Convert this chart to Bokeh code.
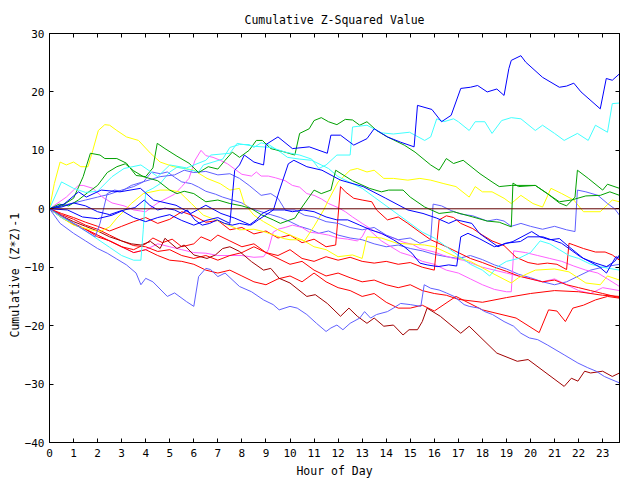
from bokeh.plotting import figure
from bokeh.models import Range1d, LinearAxis, FixedTicker, Span, Title
from bokeh.embed import file_html
from bokeh.resources import INLINE

FONT = "DejaVu Sans Mono"

x_ticks = list(range(0, 24))
y_ticks = list(range(-40, 31, 10))

# ---- series (hour of day, cumulative value) ----
b1_h = [0, 0.5, 1, 1.5, 2, 2.5, 3, 3.5, 4, 4.5, 5, 5.5, 6, 6.5, 7, 7.5, 7.6, 7.7, 7.9, 8.1, 8.5, 8.9, 9.0, 9.5, 10.1, 10.8, 11.55, 11.7, 12.1, 12.65, 13.2, 13.5, 14.05, 14.6, 15.16, 15.3, 15.9, 16.3, 16.7, 17.1, 17.5, 17.8, 18.2, 18.6, 18.9, 19.1, 19.2, 19.6, 19.8, 20.5, 21.2, 21.5, 21.8, 22.1, 22.9, 23.15, 23.4, 23.7]
b1_v = [0, 0.3, 1.0, 0.5, -0.5, -1.0, -0.3, -1.5, -2.2, -1.5, -1.0, -2.0, -2.8, -2.0, -1.5, -2.5, 2.0, 6.6, 7.5, 9.2, 8.0, 7.5, 11.0, 12.3, 10.3, 10.6, 9.5, 12.6, 12.6, 10.9, 12.0, 13.7, 12.3, 11.4, 10.6, 17.7, 17.0, 14.9, 16.0, 20.6, 20.8, 21.1, 20.0, 20.5, 19.4, 24.0, 25.4, 26.2, 25.1, 22.5, 20.8, 21.0, 21.5, 20.0, 17.1, 22.3, 22.0, 23.1]

b2_h = [0, 0.6, 1.21, 1.53, 2.15, 2.93, 3.78, 4.33, 5.26, 5.88, 6.5, 7.13, 7.7, 8.37, 8.68, 9.31, 9.54, 9.93, 10.16, 10.7, 11.33, 12.1, 13.04, 13.98, 14.9, 15.53, 16.1, 16.6, 16.93, 17.56, 17.87, 18.65, 18.96, 19.58, 19.89, 20.51, 21.29, 22.07, 22.85, 23.16, 23.55, 23.7]
b2_v = [0, 0.8, 2.9, 2.0, 3.2, 2.9, 3.5, 1.5, 0.6, -0.8, 0.6, -0.8, -1.6, -2.8, -1.9, -0.2, 2.9, 7.7, 8.3, 7.2, 6.6, 4.9, 3.8, 1.8, -0.2, -0.8, -1.6, -2.5, -1.9, -2.5, -4.2, -6.5, -5.9, -5.6, -4.8, -4.8, -5.9, -8.2, -9.9, -11.0, -8.2, -8.5]

b3_h = [0, 0.75, 1.37, 2.0, 2.6, 3.1, 3.55, 3.94, 4.17, 4.5, 4.8, 5.2, 5.5, 5.73, 6.04, 6.35, 6.66, 6.97, 7.28, 7.6, 7.9, 8.3, 8.6, 8.84, 9.15, 9.77, 10.1, 10.55, 11.0, 11.5, 11.95, 12.4, 12.9, 13.35, 13.8, 14.3, 14.75, 15.07, 15.4, 15.7, 16.15, 16.6, 16.93, 17.1, 17.4, 17.87, 18.5, 19.27, 20.05, 20.4, 20.8, 21.2, 21.6, 22.2, 22.7, 23.16, 23.5, 23.7]
b3_v = [0, -0.2, -1.4, -1.7, -1.1, -0.2, 0.2, 1.5, 0.6, -0.2, 0.1, -0.2, -0.8, -0.2, -1.9, -2.8, -2.5, -1.9, -2.5, -2.8, -2.5, -2.8, -1.9, -0.8, -0.2, -0.2, -0.5, -0.2, -0.5, -1.4, -1.9, -1.9, -2.8, -3.6, -4.2, -5.3, -6.5, -7.6, -9.3, -9.6, -9.9, -9.6, -9.8, -4.8, -4.2, -5.1, -6.5, -5.6, -3.9, -4.8, -5.3, -5.1, -6.5, -8.5, -9.3, -9.9, -9.0, -7.9]

c1_h = [0, 0.5, 1.0, 1.5, 2.0, 2.6, 3.1, 3.8, 4.5, 5.0, 5.7, 6.5, 6.7, 7.5, 7.8, 8.5, 9.2, 9.8, 10.4, 10.9, 11.2, 11.5, 11.95, 12.5, 12.6, 13.2, 13.8, 14.3, 14.97, 15.6, 15.85, 16.1, 16.4, 16.8, 17.0, 17.45, 17.7, 18.1, 18.4, 18.8, 19.2, 19.6, 20.2, 20.5, 21.0, 21.4, 21.95, 22.4, 22.7, 23.2, 23.4, 23.7]
c1_v = [0, 4.6, 3.5, 2.8, 3.0, 5.5, 6.9, 7.5, 5.5, 7.5, 7.0, 8.3, 9.2, 9.5, 11.2, 10.7, 10.5, 9.7, 9.2, 8.5, 6.9, 7.5, 9.2, 9.2, 14.0, 14.3, 13.0, 12.8, 13.1, 11.7, 12.3, 15.4, 14.9, 15.4, 14.9, 13.4, 14.9, 14.9, 12.9, 15.1, 15.6, 15.4, 13.4, 14.3, 12.9, 11.7, 12.9, 11.7, 14.3, 13.1, 18.0, 18.1]

c2_h = [0, 0.5, 1.0, 1.5, 2.0, 2.5, 3.0, 3.5, 3.8, 3.9, 4.0, 4.3, 4.6, 5.0, 5.3, 5.7, 6.2, 6.4, 6.8, 7.2, 7.5, 7.9, 8.3, 8.5, 8.8, 9.15, 9.6, 9.9, 10.4, 10.9, 11.3, 11.6, 12.0, 12.5, 13.0, 13.5, 14.0, 14.5, 15.0, 15.5, 16.0, 16.5, 17.0, 17.5, 18.0, 18.3, 18.6, 19.0, 19.5, 20.0, 20.4, 20.8, 21.2, 21.6, 22.0, 22.5, 23.0, 23.7]
c2_v = [0, -1.5, -2.5, -3.8, -5.2, -6.6, -8.0, -8.8, -8.8, -3.5, 2.9, 3.5, 4.3, 6.3, 7.1, 6.8, 6.3, 7.5, 8.0, 8.5, 10.5, 11.0, 11.0, 10.5, 11.3, 10.9, 9.7, 8.8, 8.5, 8.3, 7.5, 6.9, 5.5, 4.5, 3.5, 2.0, 0.5, -1.0, -2.5, -4.0, -5.0, -6.5, -8.0, -9.5, -10.5, -11.5, -10.0, -9.0, -8.5, -7.5, -5.5, -6.0, -7.0, -8.0, -8.5, -9.5, -10.0, -10.5]

g1_h = [0, 0.5, 1.0, 1.4, 1.7, 2.1, 2.3, 2.8, 3.2, 3.6, 4.0, 4.3, 4.48, 4.8, 5.3, 5.8, 6.2, 6.6, 7.0, 7.3, 7.6, 7.9, 8.3, 8.6, 8.85, 9.2, 9.7, 10.2, 10.4, 10.8, 11.0, 11.3, 11.6, 11.95, 12.3, 12.6, 12.9, 13.2, 13.6, 14.05, 14.3, 14.75, 15.2, 15.85, 16.2, 16.5, 16.8, 17.2, 17.9, 18.4, 18.7, 19.2, 20.2, 20.7, 21.2, 21.5, 21.85, 21.95, 22.4, 23.0, 23.2, 23.7]
g1_v = [0, 0.5, 1.8, 5.5, 9.5, 9.2, 8.6, 8.6, 7.8, 5.7, 5.5, 7.0, 11.2, 10.3, 9.0, 7.8, 6.2, 7.2, 6.8, 8.3, 9.7, 8.8, 10.0, 11.7, 11.7, 10.3, 9.8, 9.2, 12.9, 13.7, 15.1, 15.6, 14.9, 14.4, 15.3, 15.2, 14.3, 14.9, 13.4, 12.3, 11.8, 10.9, 9.7, 7.5, 6.6, 8.6, 7.75, 8.3, 6.0, 4.6, 3.8, 4.0, 4.0, 2.6, 1.0, 0.5, 2.0, 6.6, 5.2, 3.2, 4.2, 3.5]

g2_h = [0, 0.4, 0.8, 1.2, 1.6, 2.0, 2.4, 2.8, 3.15, 3.5, 3.9, 4.5, 5.0, 5.3, 5.6, 6.0, 6.5, 7.0, 7.5, 8.0, 8.4, 8.8, 9.3, 9.6, 10.2, 10.5, 11.0, 11.3, 11.7, 11.9, 12.6, 13.3, 13.8, 14.1, 14.7, 15.0, 15.6, 16.2, 16.8, 17.6, 18.2, 18.7, 19.2, 19.27, 19.5, 20.2, 20.7, 21.2, 21.7, 22.3, 22.9, 23.3, 23.7]
g2_v = [0, 0.8, 0.5, 1.5, 2.8, 4.0, 6.2, 7.2, 7.7, 6.5, 5.5, 4.8, 3.2, 2.6, 3.0, 2.6, 1.2, 1.5, 0.9, 0.5, 0.0, -1.0, -1.9, -2.5, -1.6, 0.3, 3.2, 2.6, 3.2, 6.6, 4.8, 3.5, 2.9, 3.2, 3.2, 2.0, 0.3, -0.8, -0.5, -1.4, -2.1, -2.3, -3.1, 4.4, 3.8, 4.0, 2.6, 1.2, 1.5, 2.2, 2.3, 2.9, 2.3]

y1_h = [0, 0.2, 0.44, 0.7, 1.0, 1.3, 1.6, 1.8, 2.03, 2.3, 2.5, 2.8, 3.2, 3.7, 4.2, 4.6, 5.16, 5.5, 6.0, 6.55, 7.1, 7.5, 7.9, 8.1, 8.5, 8.9, 9.5, 10.0, 10.6, 11.0, 11.4, 11.6, 12.0, 12.5, 12.8, 13.2, 13.5, 13.9, 14.3, 14.9, 15.4, 15.85, 16.4, 16.9, 17.45, 17.7, 18.0, 18.4, 18.9, 19.2, 19.6, 20.1, 20.5, 20.85, 21.3, 21.8, 22.2, 22.9, 23.4, 23.7]
y1_v = [0, 4.3, 8.0, 7.5, 8.0, 7.2, 7.2, 10.0, 13.4, 14.4, 14.3, 13.4, 12.3, 11.7, 9.5, 8.0, 7.2, 7.0, 6.6, 5.2, 4.3, 3.2, 3.5, 0.9, -1.1, -2.2, -3.6, -4.5, -5.5, -3.0, -0.2, 1.5, 4.6, 6.6, 6.9, 6.3, 6.6, 5.2, 5.2, 4.9, 5.2, 4.9, 4.3, 3.8, 2.0, 3.8, 2.9, 2.9, 1.8, 0.9, 2.3, 0.9, 0.3, 3.5, 2.6, 1.5, -0.5, -0.5, 1.5, 1.2]

y3_h = [0, 0.5, 1.0, 1.7, 2.1, 2.5, 2.8, 3.4, 3.9, 4.6, 5.0, 5.4, 5.9, 6.4, 7.1, 7.9, 8.5, 8.9, 9.75, 10.0, 10.5, 11.0, 11.5, 12.0, 12.6, 13.0, 13.2, 13.8, 14.45, 15.6, 16.0, 17.0, 17.5, 18.4, 19.2, 19.5, 20.2, 21.0, 21.6, 22.3, 22.9, 23.2, 23.7]
y3_v = [0, -1.5, -2.8, -3.6, -3.9, -3.1, -1.6, 0.9, 2.6, 3.2, 3.2, 2.9, 0.9, -1.1, -2.2, -3.6, -3.5, -3.9, -5.1, -5.3, -5.3, -6.5, -7.0, -8.2, -7.9, -8.5, -4.8, -5.0, -5.9, -6.2, -6.5, -8.4, -9.0, -11.0, -12.7, -11.8, -10.5, -10.3, -10.8, -12.7, -13.0, -11.5, -12.2]

m1_h = [0, 0.7, 1.2, 1.4, 1.8, 2.2, 2.6, 3.1, 3.5, 4.0, 4.5, 5.2, 5.5, 5.8, 6.05, 6.3, 6.5, 6.8, 7.1, 7.4, 7.7, 8.0, 8.4, 8.6, 8.8, 9.1, 9.4, 9.8, 10.1, 10.4, 10.7, 11.0, 11.3, 11.6, 12.0, 12.3, 12.6, 13.0, 13.5, 14.0, 14.3, 14.7, 15.1, 15.4, 15.7, 16.0, 16.4, 16.8, 17.2, 17.6, 18.0, 18.5, 19.0, 19.5, 20.0, 20.5, 21.0, 21.5, 22.0, 22.5, 23.0, 23.7]
m1_v = [0, 2.0, 4.0, 4.0, 3.5, 2.0, 1.0, 0.5, -0.2, -0.5, 1.0, 2.5, 3.8, 5.2, 8.3, 10.0, 9.1, 8.8, 8.3, 7.7, 6.8, 5.9, 5.6, 6.3, 5.6, 5.6, 5.3, 4.8, 4.0, 3.7, 2.6, 2.3, 1.7, 0.9, 0.2, -0.5, -1.4, -2.5, -3.8, -4.6, -5.0, -5.7, -6.1, -6.8, -7.1, -7.4, -8.0, -8.5, -8.8, -9.4, -10.0, -10.5, -11.0, -11.5, -12.0, -12.5, -12.0, -13.0, -14.0, -14.5, -13.5, -14.0]

m2_h = [0, 0.5, 1, 1.5, 2, 2.5, 3, 3.5, 4, 4.5, 5, 5.5, 6, 6.5, 7, 7.5, 8, 8.5, 8.9, 9.1, 9.3, 9.5, 9.8, 10.1, 10.5, 10.8, 11.2, 11.6, 12.0, 12.4, 12.8, 13.0, 13.2, 13.4, 13.8, 14.2, 14.6, 15, 15.5, 16, 16.5, 17, 17.5, 18, 18.5, 19.0, 19.2, 19.3, 19.8, 20.3, 20.8, 21.3, 21.8, 22.3, 22.8, 23.2, 23.7]
m2_v = [0, -1.5, -2.5, -3.5, -4.5, -5.5, -6.5, -7.5, -7.0, -6.0, -6.5, -7.0, -7.5, -7.6, -8.0, -8.0, -8.0, -8.3, -8.2, -7.0, -4.0, -3.5, -3.2, -2.8, -3.2, -4.0, -4.2, -4.5, -5.0, -5.2, -5.5, -4.8, -3.2, -4.0, -5.5, -6.5, -7.5, -8.0, -9.0, -9.5, -10.5, -11.0, -12.0, -13.0, -13.8, -14.2, -14.2, -7.2, -7.5, -8.0, -8.5, -9.0, -9.8, -10.5, -11.0, -12.0, -13.3]

r1_h = [0, 0.5, 1, 1.5, 2, 2.5, 3, 3.5, 4, 4.5, 5, 5.5, 6, 6.5, 7, 7.5, 8, 8.5, 9, 9.5, 10, 10.5, 11, 11.5, 11.9, 12.1, 12.3, 12.65, 13.0, 13.4, 13.6, 14.05, 14.5, 14.9, 15.4, 15.85, 16.5, 17, 17.5, 18, 18.5, 19, 19.5, 20, 20.5, 21, 21.5, 22, 22.5, 23, 23.7]
r1_v = [0, -0.8, -1.5, -2.3, -3.0, -3.8, -3.0, -2.2, -1.5, -2.5, -1.8, -0.5, -1.2, -2.3, -2.0, -3.6, -3.2, -4.3, -3.8, -5.0, -4.5, -5.8, -5.2, -6.5, -6.2, 3.8, 2.9, 1.8, 1.5, 1.2, -0.2, -1.9, -1.4, -2.5, -4.0, -5.3, -6.5, -7.5, -8.5, -9.2, -10.0, -10.7, -11.5, -12.0, -12.5, -12.2, -13.0, -13.5, -14.0, -14.5, -15.2]

r2_h = [0, 0.5, 1, 1.5, 2, 2.5, 3, 3.5, 4, 4.5, 5, 5.5, 6, 6.5, 7, 7.5, 8, 8.5, 9, 9.5, 10, 10.5, 11, 11.5, 12, 12.5, 13, 13.5, 14, 14.5, 15, 15.5, 16, 16.9, 18.0, 19.4, 20.36, 20.75, 21.1, 21.45, 21.76, 22.2, 22.7, 23.2, 23.7]
r2_v = [0, -1.2, -2.5, -3.5, -4.8, -5.5, -6.5, -7.5, -7.0, -8.0, -8.8, -9.0, -9.5, -10.5, -11.0, -10.5, -11.5, -12.5, -13.0, -12.0, -11.5, -12.5, -11.0, -12.5, -13.5, -14.0, -15.0, -14.5, -16.0, -17.0, -17.0, -16.5, -17.5, -15.0, -17.3, -18.7, -21.2, -17.3, -17.5, -19.3, -17.0, -16.5, -15.6, -15.0, -15.3]

r3_h = [0, 0.5, 1, 1.5, 2, 2.5, 3, 3.5, 4, 4.3, 4.7, 5.1, 5.5, 6, 6.3, 6.7, 7, 7.5, 8, 8.5, 9, 9.5, 10, 10.5, 11, 11.5, 12, 12.5, 13, 13.5, 14, 14.5, 15, 15.5, 16, 16.5, 17, 18, 19, 20, 21, 22, 23, 23.7]
r3_v = [0, -1.5, -2.7, -3.5, -4.5, -5.5, -6.5, -7.0, -6.0, -5.0, -5.8, -5.2, -6.5, -6.0, -4.8, -5.5, -4.5, -5.5, -6.5, -6.0, -7.5, -8.5, -9.5, -9.0, -10.5, -11.5, -11.0, -11.8, -12.5, -12.2, -13.0, -13.5, -13.0, -14.0, -14.5, -14.8, -15.5, -16.0, -15.2, -14.5, -14.0, -14.2, -14.8, -15.0]

r4_h = [0, 0.5, 1, 1.5, 2, 2.5, 3, 3.5, 4, 4.5, 5, 5.5, 6, 6.5, 7, 7.5, 8, 8.5, 9, 9.5, 10, 10.5, 11, 11.5, 12, 12.5, 13, 13.5, 14, 14.5, 15, 15.5, 16.0, 16.2, 16.5, 16.8, 17.1, 17.6, 18.0, 18.4, 18.9, 19.4, 19.9, 20.3, 20.7, 21.1, 21.5, 21.6, 21.8, 22.2, 22.7, 23.1, 23.4, 23.7]
r4_v = [0, -1.0, -1.8, -2.8, -3.5, -4.5, -5.5, -6.3, -6.5, -7.3, -7.0, -8.0, -8.5, -8.0, -8.8, -8.0, -7.5, -6.5, -7.5, -8.0, -7.0, -8.5, -9.0, -8.2, -8.8, -8.3, -9.0, -9.3, -9.0, -9.5, -9.2, -10.0, -10.5, -1.9, -1.2, -1.5, -2.5, -3.4, -4.5, -5.5, -6.3, -8.3, -9.2, -9.5, -9.3, -9.5, -10.4, -5.9, -6.2, -6.8, -7.4, -7.4, -7.9, -8.8]

dr_h = [0, 0.5, 1.0, 1.5, 2.0, 2.5, 3.0, 3.4, 3.8, 4.2, 4.6, 4.8, 5.3, 5.6, 6.0, 6.55, 6.9, 7.2, 7.5, 7.9, 8.4, 8.9, 9.2, 9.55, 10.0, 10.7, 11.05, 11.55, 12.1, 12.45, 12.8, 13.2, 13.5, 13.9, 14.3, 14.7, 14.95, 15.3, 15.5, 15.7, 16.25, 17.1, 17.45, 18.6, 19.45, 19.9, 21.4, 21.7, 21.97, 22.25, 22.5, 23.0, 23.4, 23.7]
dr_v = [0, -1.2, -2.2, -3.0, -3.8, -4.8, -5.5, -6.0, -6.2, -5.6, -6.8, -5.05, -6.8, -6.2, -7.9, -8.5, -7.9, -6.8, -6.5, -7.3, -9.05, -10.5, -10.2, -11.9, -12.7, -15.0, -14.7, -16.2, -18.4, -17.0, -18.4, -19.6, -18.7, -20.1, -19.9, -21.6, -20.7, -20.7, -19.3, -17.0, -18.4, -21.3, -20.1, -24.7, -26.1, -25.8, -30.4, -29.0, -29.5, -27.8, -28.1, -27.8, -28.7, -28.1]

lb1_h = [0, 0.44, 1.0, 1.5, 2.0, 2.4, 2.8, 3.2, 3.6, 3.8, 4.0, 4.3, 4.9, 5.2, 5.7, 6.0, 6.2, 6.5, 6.7, 7.0, 7.3, 7.9, 8.4, 8.9, 9.3, 9.55, 10.0, 10.3, 10.7, 11.1, 11.5, 11.7, 11.95, 12.2, 12.5, 12.9, 13.1, 13.35, 13.6, 14.05, 14.3, 14.6, 15.0, 15.44, 15.58, 15.85, 16.2, 16.5, 16.82, 17.24, 17.45, 17.86, 18.1, 18.42, 18.9, 19.3, 19.6, 19.95, 20.3, 20.7, 21.4, 21.97, 22.38, 22.73, 23.07, 23.35, 23.7]
lb1_v = [0, -2.5, -4.2, -5.5, -6.8, -7.6, -8.6, -9.6, -11.0, -13.0, -11.9, -12.5, -15.0, -14.4, -15.9, -16.7, -11.6, -10.2, -10.4, -11.6, -11.0, -13.3, -14.2, -15.6, -16.4, -17.3, -16.7, -17.0, -18.1, -19.6, -21.0, -20.4, -19.9, -20.7, -19.6, -18.7, -17.6, -18.7, -18.1, -17.6, -17.0, -16.2, -16.4, -16.7, -13.0, -13.6, -13.9, -14.4, -15.0, -16.4, -16.7, -17.0, -17.6, -18.1, -19.3, -20.1, -21.3, -22.1, -22.4, -23.3, -25.0, -26.4, -27.2, -27.8, -28.7, -29.2, -29.8]

lb2_h = [0, 0.5, 1.0, 1.5, 1.9, 2.1, 2.4, 2.7, 3.0, 3.4, 3.8, 4.2, 4.6, 5.2, 5.6, 6.0, 6.5, 7.0, 7.5, 7.9, 8.3, 8.8, 9.2, 9.5, 9.8, 10.2, 10.6, 11.0, 11.5, 12.0, 12.5, 13.0, 13.5, 14.0, 14.5, 15.0, 15.4, 15.85, 15.95, 16.3, 16.7, 17.1, 17.6, 18.2, 18.6, 18.9, 19.2, 19.6, 20.0, 20.5, 21.0, 21.5, 21.85, 21.95, 22.3, 22.8, 23.2, 23.5, 23.7]
lb2_v = [0, -1.2, -2.5, -3.8, -4.8, -2.5, 2.6, 3.2, 3.0, 4.0, 4.5, 5.0, 5.5, 5.8, 6.6, 6.2, 6.4, 5.8, 6.0, 5.2, 4.0, 2.3, 2.6, 1.8, -0.2, -0.2, -1.1, -1.4, -2.2, -2.5, -3.2, -3.6, -3.2, -4.5, -5.3, -5.0, -5.9, -5.3, 0.8, 0.5, -0.3, -0.9, -1.2, -2.1, -1.8, -2.1, -3.0, -2.5, -3.0, -3.5, -3.0, -3.6, -3.9, 3.2, 2.9, 2.3, 0.9, 0.0, -1.1]

lb3_h = [0, 0.5, 1.0, 1.5, 2.0, 2.5, 3.0, 3.5, 3.9, 4.25, 4.6, 4.9, 5.2, 5.5, 5.9, 6.2, 6.5, 6.9, 7.2, 7.6, 8.0, 8.4, 8.8, 9.2, 9.6, 10.0, 10.4, 10.8, 11.2, 11.6, 12.0, 12.5, 13.0, 13.5, 14.0, 14.5, 15.0, 15.5, 16.0, 16.5, 17.0, 17.5, 18.0, 18.5, 19.0, 19.5, 20.0, 20.5, 21.0, 21.5, 22.0, 22.5, 23.0, 23.7]
lb3_v = [0, 0.5, 1.0, 1.5, 2.0, 2.5, 3.2, 3.8, 4.6, 6.3, 6.0, 6.3, 5.4, 4.6, 4.3, 3.7, 3.0, 2.5, 2.0, 1.5, 1.0, 0.0, -0.5, -1.0, -1.5, -2.2, -3.0, -3.5, -4.2, -3.8, -4.5, -5.0, -5.3, -6.0, -6.5, -6.2, -6.8, -7.2, -7.8, -8.2, -8.5, -8.0, -8.7, -9.6, -10.3, -11.2, -11.8, -12.5, -13.0, -12.5, -11.5, -10.5, -10.0, -9.5]

series = [
    (lb3_h, lb3_v, "#6060ff"),
    (m2_h, m2_v, "#ff60ff"),
    (m1_h, m1_v, "#ff60ff"),
    (r3_h, r3_v, "#ff0000"),
    (r2_h, r2_v, "#ff0000"),
    (r4_h, r4_v, "#ff0000"),
    (r1_h, r1_v, "#ff0000"),
    (dr_h, dr_v, "#a00000"),
    (y3_h, y3_v, "#ffff00"),
    (y1_h, y1_v, "#ffff00"),
    (c2_h, c2_v, "#40ffff"),
    (lb2_h, lb2_v, "#6060ff"),
    (lb1_h, lb1_v, "#6060ff"),
    (g2_h, g2_v, "#00a000"),
    (g1_h, g1_v, "#00a000"),
    (c1_h, c1_v, "#40ffff"),
    (b3_h, b3_v, "#0000ff"),
    (b2_h, b2_v, "#0000ff"),
    (b1_h, b1_v, "#0000ff"),
]

p = figure(width=640, height=480, output_backend="svg", toolbar_location=None,
           x_range=Range1d(0, 23.7), y_range=Range1d(-40, 30),
           min_border_left=49, min_border_right=21, min_border_top=33, min_border_bottom=37,
           x_axis_label="Hour of Day")
p.background_fill_color = "white"
p.border_fill_color = "white"
p.outline_line_color = "black"
p.grid.visible = False

p.title.text = "Cumulative Z-Squared Value"
p.title.align = "center"
p.title.text_font = FONT
p.title.text_font_size = "11.5px"
p.title.text_font_style = "normal"
p.title.text_color = "black"
p.title.standoff = 14

for ax in (p.xaxis[0], p.yaxis[0]):
    ax.major_tick_in = 4
    ax.major_tick_out = 0
    ax.minor_tick_line_color = None
    ax.axis_line_color = "black"
    ax.major_tick_line_color = "black"
    ax.major_label_text_font = FONT
    ax.major_label_text_font_size = "11px"
    ax.major_label_text_color = "black"
    ax.axis_label_text_font = FONT
    ax.axis_label_text_font_size = "11.5px"
    ax.axis_label_text_font_style = "normal"
    ax.axis_label_text_color = "black"
p.xaxis.ticker = FixedTicker(ticks=x_ticks)
p.yaxis.ticker = FixedTicker(ticks=y_ticks)
p.xaxis.major_label_standoff = 6
p.xaxis.axis_label_standoff = 4
p.yaxis.major_label_standoff = 5

top = LinearAxis(ticker=FixedTicker(ticks=x_ticks), major_tick_in=4, major_tick_out=0,
                 minor_tick_line_color=None, major_label_standoff=0, axis_line_color="black",
                 major_label_overrides={t: "" for t in x_ticks})
right = LinearAxis(ticker=FixedTicker(ticks=y_ticks), major_tick_in=4, major_tick_out=0,
                   minor_tick_line_color=None, major_label_standoff=0, axis_line_color="black",
                   major_label_overrides={t: "" for t in y_ticks})
p.add_layout(top, "above")
p.add_layout(right, "right")

# y label: start of the rotated text placed ~105 px above the frame bottom
p.add_layout(Title(text="Cumulative (Z*Z)-1", align="left", offset=105, standoff=0,
                   text_font=FONT, text_font_size="11.5px", text_font_style="normal",
                   text_color="black"), "left")

p.add_layout(Span(location=0, dimension="width", line_color="#600000", line_width=1))

for h, v, c in series:
    p.line(h, v, line_color=c, line_width=1)

open("out.html", "w").write(file_html(p, INLINE))
